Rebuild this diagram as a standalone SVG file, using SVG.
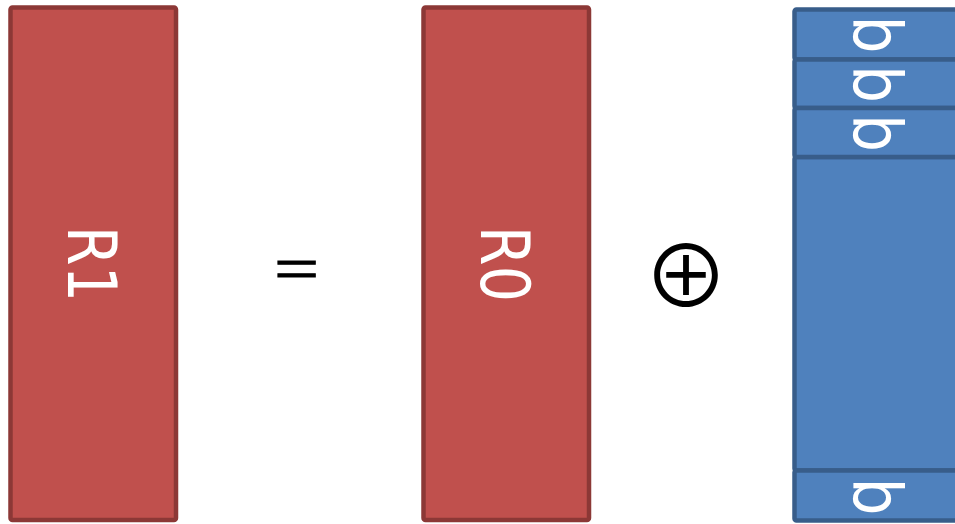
<svg xmlns="http://www.w3.org/2000/svg" width="955" height="524" viewBox="0 0 955 524">
<style>
.red{fill:#C0504D;stroke:#8C3836;stroke-width:4.5}
.blue{fill:#4F81BD;stroke:#385D8A;stroke-width:4.5}
.lbl{font-family:"DejaVu Sans",sans-serif;fill:#FFFFFF;text-anchor:middle}
.eq{font-family:"Liberation Serif",serif;fill:#000000;stroke:#000000;stroke-width:1.2;text-anchor:middle}
.op{font-family:"Noto Sans CJK JP",sans-serif;fill:#000000;text-anchor:middle}
</style>
<rect width="955" height="524" fill="#FFFFFF"/>
<g id="R1">
<rect class="red" x="10.5" y="7.5" width="165.5" height="512.5" rx="2"/>
<text class="lbl" font-size="67" transform="translate(68,264) rotate(90) scale(0.85,1)">R1</text>
</g>
<g id="equals">
<text class="eq" font-size="80" transform="translate(296.5,290) scale(1,0.8)">=</text>
</g>
<g id="R0">
<rect class="red" x="423.5" y="7.5" width="165.5" height="512.5" rx="2"/>
<text class="lbl" font-size="67" transform="translate(481,264) rotate(90) scale(0.85,1)">R0</text>
</g>
<g id="xor">
<text class="op" font-size="86" x="686" y="308">⊕</text>
</g>
<g id="B">
<rect class="blue" x="794.5" y="157" width="168" height="313.5" rx="2"/>
<g id="b1">
<rect class="blue" x="794.5" y="9.5" width="168" height="50" rx="2"/>
<text class="lbl" font-size="68" transform="translate(853,34.5) rotate(90) scale(0.88,1)">b</text>
</g>
<g id="b2">
<rect class="blue" x="794.5" y="59.5" width="168" height="48.5" rx="2"/>
<text class="lbl" font-size="68" transform="translate(853,84) rotate(90) scale(0.88,1)">b</text>
</g>
<g id="b3">
<rect class="blue" x="794.5" y="108" width="168" height="49" rx="2"/>
<text class="lbl" font-size="68" transform="translate(853,133) rotate(90) scale(0.88,1)">b</text>
</g>
<g id="b4">
<rect class="blue" x="794.5" y="470.5" width="168" height="50" rx="2"/>
<text class="lbl" font-size="68" transform="translate(853,496.5) rotate(90) scale(0.88,1)">b</text>
</g>
</g>
</svg>
